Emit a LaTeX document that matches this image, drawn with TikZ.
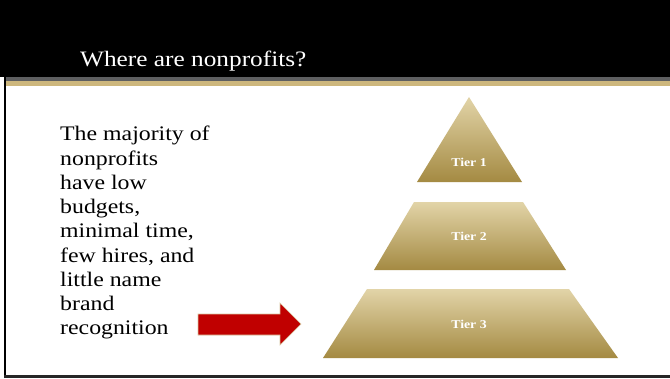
\documentclass[tikz,border=0pt]{standalone}
\usepackage{fontspec}
\setmainfont[FakeStretch=1.15]{Liberation Serif}
\definecolor{stripegray}{HTML}{5E5F61}
\definecolor{stripegold}{HTML}{CDB77D}
\definecolor{pyrtop}{HTML}{E2D4A8}
\definecolor{pyrbot}{HTML}{A48A42}
\definecolor{arrowred}{HTML}{C00000}
\definecolor{arrowedge}{HTML}{D8C9A2}
\tikzset{
  tier/.style={top color=pyrtop, bottom color=pyrbot},
  tierlbl/.style={text=white, font=\fontsize{12}{14}\selectfont\bfseries, inner sep=0pt},
  titlelbl/.style={text=white, font=\fontsize{22}{26}\selectfont, inner sep=0pt, anchor=base west},
  bodylbl/.style={text=black, font=\fontsize{20.7}{24.25}\selectfont, inner sep=0pt, anchor=north west, align=left},
}
\begin{document}
\begin{tikzpicture}[x=1pt,y=-1pt]
\useasboundingbox (0,0) rectangle (670,378);
\fill[white] (0,0) rectangle (670,378);
% header
\fill[black] (0,0) rectangle (670,77);
\fill[stripegray] (5,77) rectangle (670,81);
\fill[stripegold] (5,81) rectangle (670,85.5);
\node[titlelbl] (title) at (80,66) {Where are nonprofits?};
% frame
\draw[black, line width=2pt] (5,77) -- (5,376.5);
\draw[black!85, line width=3pt] (4,376.5) -- (670,376.5);
% body text
\node[bodylbl] (body) at (60,126) {The majority of\\nonprofits\\have low\\budgets,\\minimal time,\\few hires, and\\little name\\brand\\recognition};
% pyramid
\shade[tier] (469,97) -- (522,182) -- (417,182) -- cycle;
\shade[tier] (414,202) -- (523,202) -- (566,270) -- (374,270) -- cycle;
\shade[tier] (367,289) -- (569,289) -- (618,358) -- (323,358) -- cycle;
\node[tierlbl] (t1) at (469,162) {Tier 1};
\node[tierlbl] (t2) at (469,236) {Tier 2};
\node[tierlbl] (t3) at (469,324) {Tier 3};
% arrow
\filldraw[fill=arrowred, draw=arrowedge, line width=0.6pt] (198,314) -- (280,314) -- (280,303) -- (301,324) -- (280,345) -- (280,335) -- (198,335) -- cycle;
\end{tikzpicture}
\end{document}
